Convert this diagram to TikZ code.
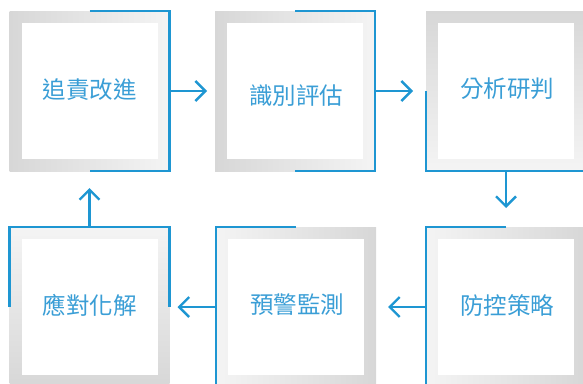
\documentclass[tikz,border=0pt]{standalone}
\usepackage{fontspec}
\newfontfamily\cjk{Noto Sans CJK TC}
\usetikzlibrary{arrows.meta}
\definecolor{lineblue}{HTML}{1E96D2}
\definecolor{textblue}{HTML}{3A9ED6}
\definecolor{gdark}{HTML}{D7D7D7}
\definecolor{glight}{HTML}{F4F4F4}
\tikzset{
  outerbox/.style={minimum width=160pt, minimum height=160pt, inner sep=0pt, outer sep=0pt},
  innerbox/.style={fill=white, minimum width=136pt, minimum height=136pt, inner sep=0pt},
  lbl/.style={font=\cjk\fontsize{23.5}{23.5}\selectfont, text=textblue, inner sep=0pt},
  frame/.style={draw=lineblue, line width=2.4pt},
  flow/.style={draw=lineblue, line width=2.4pt, -{Straight Barb[length=10pt,width=20pt,line width=2.4pt]}}
}
\begin{document}
\begin{tikzpicture}[x=1pt,y=-1pt]
\useasboundingbox (0,0) rectangle (583,383);
% boxes
\node[outerbox, left color=gdark, right color=glight] (b1) at (89.5,91) {};
\node[outerbox, left color=gdark, right color=glight] (b2) at (295,91) {};
\node[outerbox, top color=gdark, bottom color=glight] (b3) at (506,91) {};
\node[outerbox, top color=glight, bottom color=gdark] (b4) at (89.5,307) {};
\node[outerbox, left color=glight, right color=gdark] (b5) at (296,307) {};
\node[outerbox, left color=glight, right color=gdark] (b6) at (506,307) {};
\foreach \b in {b1,b2,b3,b4,b5,b6} {\node[innerbox] (\b i) at (\b) {};}
% labels
\node[lbl] (t1) at (89.5,90) {追責改進};
\node[lbl] (t2) at (296,96) {識別評估};
\node[lbl] (t3) at (507,89) {分析研判};
\node[lbl] (t4) at (89.5,305) {應對化解};
\node[lbl] (t5) at (297,305) {預警監測};
\node[lbl] (t6) at (507,305) {防控策略};
% blue frames
\draw[frame] (b1.north) -- (b1.north east) -- (b1.south east) -- (b1.south);
\draw[frame] (b2.north) -- (b2.north east) -- (b2.south east) -- (b2.south);
\draw[frame] (b3.west) -- (b3.south west) -- (b3.south east);
\draw[frame] (b4.west) -- (b4.north west) -- (b4.north east) -- (b4.east);
\draw[frame] (b5.north) -- (b5.north west) -- (b5.south west);
\draw[frame] (b6.north) -- (b6.north west) -- (b6.south west);
% connectors
\draw[flow, shorten >=8pt] (b1.east) -- (b2.west);
\draw[flow, shorten >=13pt] (b2.east) -- (b3.west);
\draw[flow, shorten >=19pt] (b3.south) -- (b6.north);
\draw[flow, shorten >=12pt] (b6.west) -- (b5.east);
\draw[flow, shorten >=8pt] (b5.west) -- (b4.east);
\draw[flow, shorten >=17pt] (b4.north) -- (b1.south);
\end{tikzpicture}
\end{document}
